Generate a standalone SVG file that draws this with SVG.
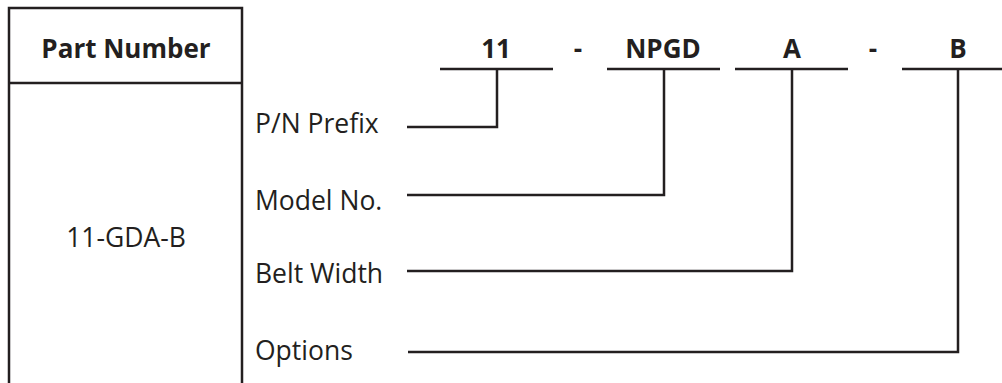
<svg xmlns="http://www.w3.org/2000/svg" width="1002" height="383" viewBox="0 0 1002 383">
<style>
  text { font-family: "Open Sans", Lato, "Liberation Sans", sans-serif; fill: #231f20; }
  .b { font-weight: bold; font-size: 26px; text-anchor: middle; }
  .r { font-size: 26.5px; }
  .c { font-size: 26.5px; text-anchor: middle; }
  .ln { stroke: #231f20; stroke-width: 2.5; fill: none; }
</style>
<rect width="1002" height="383" fill="#ffffff"/>
<g id="part-number-box">
  <path class="ln" d="M9,400 V8 H242 V400 M9,83 H242"/>
  <text class="b" x="126" y="58">Part Number</text>
  <text class="c" x="126" y="247">11-GDA-B</text>
</g>
<g id="code-segments">
  <g id="seg-11"><text class="b" x="496" y="58">11</text><line class="ln" x1="440" y1="69" x2="553" y2="69"/></g>
  <text id="dash-1" class="b" x="578" y="58">-</text>
  <g id="seg-npgd"><text class="b" x="663" y="58">NPGD</text><line class="ln" x1="607" y1="69" x2="720" y2="69"/></g>
  <g id="seg-a"><text class="b" x="792" y="58">A</text><line class="ln" x1="735" y1="69" x2="848" y2="69"/></g>
  <text id="dash-2" class="b" x="873" y="58">-</text>
  <g id="seg-b"><text class="b" x="958" y="58">B</text><line class="ln" x1="902" y1="69" x2="1015" y2="69"/></g>
</g>
<g id="labels">
  <text id="lbl-prefix" class="r" x="255" y="133">P/N Prefix</text>
  <text id="lbl-model" class="r" x="255" y="210">Model No.</text>
  <text id="lbl-belt" class="r" x="255" y="283">Belt Width</text>
  <text id="lbl-options" class="r" x="255" y="360">Options</text>
</g>
<g id="connectors">
  <polyline class="ln" points="407,127 497,127 497,69"/>
  <polyline class="ln" points="407,195 664,195 664,69"/>
  <polyline class="ln" points="407,271 792,271 792,69"/>
  <polyline class="ln" points="408,352 958,352 958,69"/>
</g>
</svg>
